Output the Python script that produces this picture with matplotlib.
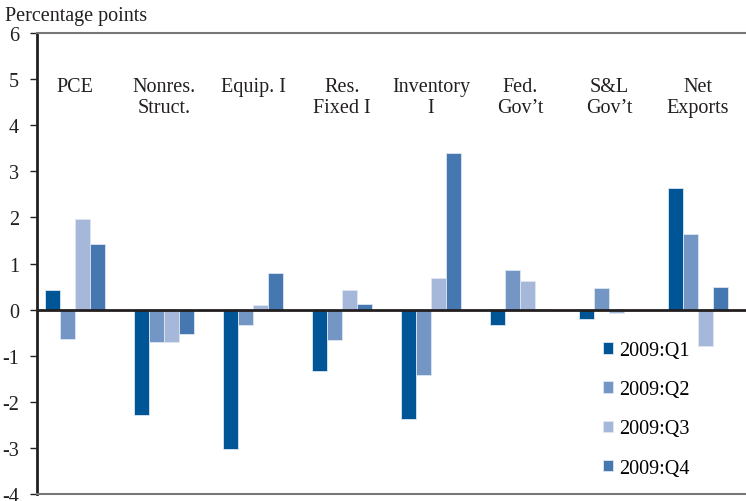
import matplotlib.pyplot as plt
import numpy as np

plt.rcParams['font.family'] = ['Liberation Serif', 'DejaVu Serif']
plt.rcParams['axes.unicode_minus'] = False

categories = ['PCE', 'Nonres.\nStruct.', 'Equip. I', 'Res.\nFixed I', 'Inventory\nI',
              'Fed.\nGov\u2019t', 'S&L\nGov\u2019t', 'Net\nExports']
series_names = ['2009:Q1', '2009:Q2', '2009:Q3', '2009:Q4']
q1 = [0.43, -2.28, -3.02, -1.33, -2.37, -0.33, -0.20, 2.63]
q2 = [-0.63, -0.70, -0.33, -0.67, -1.41, 0.85, 0.46, 1.65]
q3 = [1.96, -0.70, 0.09, 0.42, 0.68, 0.61, -0.08, -0.80]
q4 = [1.43, -0.52, 0.80, 0.13, 3.39, 0.02, -0.04, 0.48]
colors = ['#005596', '#7396c4', '#a6b8d9', '#4577b0']

fig = plt.figure(figsize=(7.46, 5.02), dpi=100)
ax = fig.add_axes([37 / 746, 1 - 495 / 502, 709 / 746, 461 / 502])

x = np.arange(len(categories))
w = 0.17
for i, (vals, c, name) in enumerate(zip([q1, q2, q3, q4], colors, series_names)):
    ax.bar(x + (i - 1.5) * w, vals, w, color=c, edgecolor='#dde6f2', linewidth=0.6, label=name)

ax.set_xlim(-0.427, 7.54)
ax.set_ylim(-4, 6)
ax.set_yticks(range(-4, 7))
ax.set_xticks([])
ax.axhline(0, color='#231f20', linewidth=2)

for s in ['top', 'bottom']:
    ax.spines[s].set_color('#777777')
    ax.spines[s].set_linewidth(1.5)
ax.spines['right'].set_visible(False)
ax.spines['left'].set_color('#231f20')
ax.spines['left'].set_linewidth(2)
ax.tick_params(axis='y', direction='out', length=5, width=1, labelsize=14.5, colors='#231f20', pad=8)

for xi, lab in zip(x, categories):
    ax.text(xi, 5.05, lab, ha='center', va='top', fontsize=14.5, color='#231f20', linespacing=1.15)

fig.text(5 / 746, 1 - 16 / 502, 'Percentage points', ha='left', va='center', fontsize=14.5, color='#231f20')

ax.legend(loc='upper left', bbox_to_anchor=(0.787, 0.349), frameon=False, fontsize=14.5,
          handlelength=0.5, handleheight=0.5, handletextpad=0.3, labelspacing=1.0,
          borderaxespad=0)

fig.savefig('out.png', dpi=100)
